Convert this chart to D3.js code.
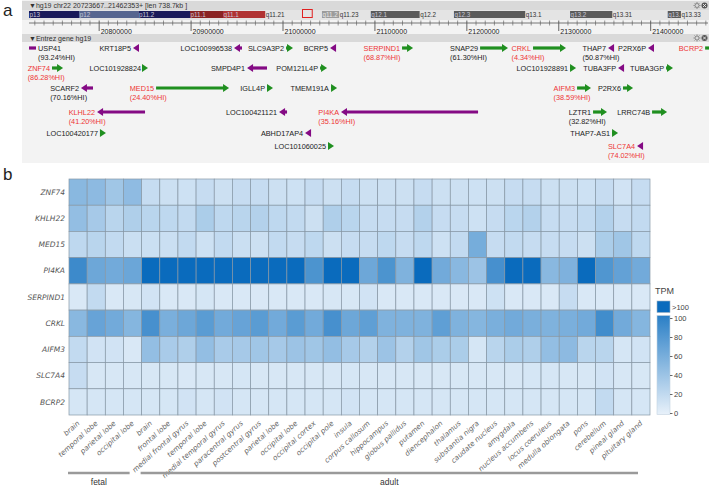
<!DOCTYPE html>
<html><head><meta charset="utf-8">
<script src="https://cdn.jsdelivr.net/npm/d3@7"></script>
<style>
body{margin:0;background:#fff;}
svg{display:block;font-family:"Liberation Sans",Arial,sans-serif;}
</style>
</head><body>
<svg id="c" width="709" height="486"></svg>
<script>
// ---------------- DATA ----------------
const regionChrom = "chr22";
const regionStart = 20723667;
const regionEnd = 21462353;
const chromLengthMb = 51.3;

const bandNames  = ["p13","p12","p11.2","p11.1","q11.1","q11.21","q11.22","q11.23","q12.1","q12.2","q12.3","q13.1","q13.2","q13.31","q13.32","q13.33"];
const bandStartMb= [0,3.8,8.3,12.2,14.7,17.9,22.2,23.5,25.9,29.6,32.2,37.6,41.0,44.2,48.4,49.4];
const bandEndMb  = [3.8,8.3,12.2,14.7,17.9,22.2,23.5,25.9,29.6,32.2,37.6,41.0,44.2,48.4,49.4,51.3];
const bandStain  = ["gvar","stalk","gvar","acenp","acenq","gneg","gpos25","gneg","gpos50","gneg","gpos50","gneg","gpos50","gneg","gpos50","gneg"];

const geneNames  = ["USP41","KRT18P5","LOC100996538","SLC9A3P2","BCRP5","SERPIND1","SNAP29","CRKL","THAP7","P2RX6P","BCRP2",
                    "ZNF74","LOC101928824","SMPD4P1","POM121L4P","LOC101928891","TUBA3FP","TUBA3GP",
                    "SCARF2","MED15","IGLL4P","TMEM191A","AIFM3","P2RX6",
                    "KLHL22","LOC100421121","PI4KA","LZTR1","LRRC74B",
                    "LOC100420177","ABHD17AP4","THAP7-AS1",
                    "LOC101060025","SLC7A4"];
const geneStart  = [20700000,20836800,20946700,21003300,21051200,21129500,21214400,21272000,21353600,21397100,21459200,
                    20748700,20847700,20960900,21040300,21312300,21364500,21416700,
                    20780200,20861900,20982600,21052200,21319900,21369900,
                    20797700,20995700,21063100,21337300,21401500,
                    20800900,21024000,21358000,
                    21049000,21385200];
const geneEnd    = [20731300,20842300,20955400,21010900,21056600,21141500,21244800,21307900,21360100,21402600,21470000,
                    20760700,20853100,20982600,21047900,21318800,21369900,21424300,
                    20793300,20941300,20989100,21058800,21335100,21380800,
                    20849900,21004400,21212200,21352500,21417800,
                    20807400,21029400,21364500,
                    21055500,21390600];
const geneStrand = [-1,-1,-1,1,-1,1,1,1,-1,-1,1,
                    1,1,-1,1,1,-1,1,
                    -1,1,1,1,1,1,
                    -1,-1,-1,1,1,
                    1,-1,1,
                    1,-1];
const geneRow    = [0,0,0,0,0,0,0,0,0,0,0,
                    1,1,1,1,1,1,1,
                    2,2,2,2,2,2,
                    3,3,3,3,3,
                    4,4,4,
                    5,5];
const geneHI     = {"USP41":"93.24","SERPIND1":"68.87","SNAP29":"61.30","CRKL":"4.34","THAP7":"50.87",
                    "ZNF74":"86.28","SCARF2":"70.16","MED15":"24.40","AIFM3":"38.59",
                    "KLHL22":"41.20","PI4KA":"35.16","LZTR1":"32.82","SLC7A4":"74.02"};
const highlightGenes = ["SERPIND1","CRKL","BCRP2","ZNF74","MED15","AIFM3","KLHL22","PI4KA","SLC7A4"];

const tissues = ["brain","temporal lobe","parietal lobe","occipital lobe",
  "brain","frontal lobe","medial frontal gyrus","temporal lobe","medial temporal gyrus","paracentral gyrus",
  "postcentral gyrus","parietal lobe","occipital lobe","occipital cortex","occipital pole","insula",
  "corpus callosum","hippocampus","globus pallidus","putamen","diencephalon","thalamus","substantia nigra",
  "caudate nucleus","amygdala","nucleus accumbens","locus coeruleus","medulla oblongata","pons","cerebellum",
  "pineal gland","pituitary gland"];
const groupNames = ["fetal","adult"];
const groupSizes = [4,28];
const heatGenes = ["ZNF74","KHLH22","MED15","PI4KA","SERPIND1","CRKL","AIFM3","SLC7A4","BCRP2"];

const ZNF74    = [50,48,38,47, 18,15,14,18,15,18,18,15,14,18,15,18, 15,15,15,18,15,15,14,15,18,18,15,15,14,18,12,18];
const KHLH22   = [45,35,25,30, 25,22,20,32,22,25,28,22,20,15,30,25, 18,18,18,28,18,18,14,18,24,28,18,18,20,28,18,20];
const MED15    = [22,25,20,16, 16,16,20,14,20,16,15,20,18,22,15,18, 18,22,18,22,14,20,60,18,20,18,18,18,15,32,38,22];
const PI4KA    = [90,65,62,66, 130,130,130,130,130,130,130,130,130,82,130,130, 65,82,55,130,62,50,40,85,130,130,50,56,130,80,70,62];
const SERPIND1 = [8,20,8,9, 12,8,8,10,8,8,8,8,8,8,9,9, 12,8,8,8,8,8,8,14,8,8,8,18,8,8,8,8];
const CRKL     = [50,68,62,52, 85,58,65,75,62,68,75,62,75,62,85,65, 72,55,55,55,72,55,52,58,62,58,55,58,62,88,62,52];
const AIFM3    = [20,12,12,8, 45,33,30,45,33,35,38,35,40,38,45,35, 28,40,28,38,32,32,10,25,32,30,45,48,25,25,10,12];
const SLC7A4   = [18,9,9,9, 9,9,8,9,9,10,9,9,9,9,9,10, 9,9,9,9,9,9,9,9,9,10,10,9,9,12,9,9];
const BCRP2    = [10,10,10,10, 10,10,12,10,12,10,10,10,10,10,10,12, 10,10,10,10,10,10,10,10,10,10,10,10,10,20,10,10];
const heatValues = [ZNF74,KHLH22,MED15,PI4KA,SERPIND1,CRKL,AIFM3,SLC7A4,BCRP2];
const legendTicks = [0,20,40,60,80,100];

// ---------------- DRAW ----------------
const svg = d3.select("#c");

// panel letters
svg.append("text").attr("x",3).attr("y",16).attr("font-size",17).attr("fill","#222").text("a");
svg.append("text").attr("x",3).attr("y",180).attr("font-size",17).attr("fill","#222").text("b");

// ---- panel a background ----
const A_L = 22, A_R = 709;
svg.append("rect").attr("x",A_L).attr("y",0).attr("width",A_R-A_L).attr("height",163).attr("fill","#f3f3f3");
svg.append("rect").attr("x",A_L).attr("y",1).attr("width",A_R-A_L).attr("height",9).attr("fill","#d9d9d9");
svg.append("rect").attr("x",A_L).attr("y",10).attr("width",A_R-A_L).attr("height",10).attr("fill","#e4e4e4");
svg.append("rect").attr("x",A_L).attr("y",34).attr("width",A_R-A_L).attr("height",8).attr("fill","#d9d9d9");

svg.append("text").attr("x",29).attr("y",8).attr("font-size",7).attr("fill","#333")
  .text("\u25BChg19 " + regionChrom + " " + regionStart + ".." + regionEnd + "+ [len " + ((regionEnd-regionStart)/1000).toFixed(1) + "kb ]");
svg.append("text").attr("x",29).attr("y",40.5).attr("font-size",7).attr("fill","#333")
  .text("\u25BCEntrez gene hg19");

function icons(y){
  const g = svg.append("g");
  g.append("circle").attr("cx",697).attr("cy",y).attr("r",2).attr("fill","none").attr("stroke","#777").attr("stroke-width",0.8);
  for(let k=0;k<8;k++){
    const a = k*Math.PI/4;
    g.append("line").attr("x1",697+2.3*Math.cos(a)).attr("y1",y+2.3*Math.sin(a))
      .attr("x2",697+3.5*Math.cos(a)).attr("y2",y+3.5*Math.sin(a)).attr("stroke","#777").attr("stroke-width",0.8);
  }
  g.append("circle").attr("cx",704.5).attr("cy",y).attr("r",3).attr("fill","#555");
  g.append("path").attr("d",`M${703},${y-1.5}L${706},${y+1.5}M${706},${y-1.5}L${703},${y+1.5}`).attr("stroke","#eee").attr("stroke-width",0.9);
}
icons(5.5); icons(38);

// ---- ideogram ----
const ix = d3.scaleLinear().domain([0,chromLengthMb]).range([29,706]);
const stainFill = {gvar:"#1b1b5a",stalk:"#56658f",acenp:"#8a2424",acenq:"#b03232",gneg:null,gpos25:"#9c9c9c",gpos50:"#5a5a5a"};
bandNames.forEach((b,i)=>{
  const f = stainFill[bandStain[i]];
  const x0 = ix(bandStartMb[i]), x1 = ix(bandEndMb[i]);
  if(f) svg.append("rect").attr("x",x0).attr("y",11).attr("width",x1-x0).attr("height",7).attr("fill",f);
  const t = svg.append("text").attr("x",x0+0.5).attr("y",17).attr("font-size",6.3)
    .attr("fill", f ? (bandStain[i]==="gpos25" ? "#e8e8e8" : "#c8c8d8") : "#333").text(b);
  // truncate label so it stays inside its band
  let s = b;
  while(s.length>1 && t.node().getComputedTextLength() > (x1-x0)-0.5){ s = s.slice(0,-1); t.text(s); }
});
svg.append("rect").attr("x",ix(regionStart/1e6)).attr("y",9.5).attr("width",ix(regionEnd/1e6)-ix(regionStart/1e6)).attr("height",8)
  .attr("fill","none").attr("stroke","#e02020").attr("stroke-width",1);

// ---- ruler ----
const gx = d3.scaleLinear().domain([regionStart,regionEnd]).range([29,708]);
svg.append("line").attr("x1",29).attr("x2",708).attr("y1",23).attr("y2",23).attr("stroke","#555").attr("stroke-width",0.8);
for(let p=Math.ceil(regionStart/10000)*10000; p<=regionEnd; p+=10000){
  const major = p % 100000 === 0;
  svg.append("line").attr("x1",gx(p)).attr("x2",gx(p)).attr("y1",20.5).attr("y2",major?31:25.5)
    .attr("stroke","#555").attr("stroke-width",major?0.9:0.6);
  if(major) svg.append("text").attr("x",gx(p)+1.5).attr("y",33.5).attr("font-size",7).attr("fill","#222").text(p);
}

// ---- genes ----
const rowY = [48,68,88,112,133,146];
const gGenes = svg.append("g");
geneNames.forEach((name,i)=>{
  const y = rowY[geneRow[i]];
  const s = geneStrand[i];
  const col = s>0 ? "#1f8f1f" : "#840a84";
  const x0r = gx(geneStart[i]), x1r = gx(geneEnd[i]);
  const clipL = x0r < 29, clipR = x1r > 708;
  const x0 = Math.max(29,x0r), x1 = Math.min(709,x1r);
  const head = 6;
  const showHead = s>0 ? !clipR : !clipL;
  let lx0 = x0, lx1 = x1;
  if(showHead){ if(s>0) lx1 = x1-head+1; else lx0 = x0+head-1; }
  if(lx1>lx0) gGenes.append("line").attr("x1",lx0).attr("x2",lx1).attr("y1",y).attr("y2",y).attr("stroke",col).attr("stroke-width",3.2);
  if(showHead){
    const tip = s>0 ? x1 : x0, base = s>0 ? x1-head : x0+head;
    gGenes.append("path").attr("d",`M${tip},${y}L${base},${y-4}L${base},${y+4}Z`).attr("fill",col);
  }
  const hl = highlightGenes.includes(name);
  const tcol = hl ? "#ee3535" : "#222";
  const t = gGenes.append("text").attr("y",y+2.6).attr("font-size",7.3).attr("fill",tcol).text(name);
  const w = t.node().getComputedTextLength();
  let tx = x0 - 2 - w;
  if(clipL) tx = x1 + 2;
  t.attr("x",tx);
  if(geneHI[name]) gGenes.append("text").attr("x",tx).attr("y",y+11.5).attr("font-size",7.3).attr("fill",tcol)
      .text("(" + geneHI[name] + "%HI)");
});

// ---- panel b heatmap ----
const x = d3.scaleBand().domain(d3.range(tissues.length)).range([69,650]);
const y = d3.scaleBand().domain(heatGenes).range([179,415]);
const color = d3.scaleLinear().domain([0,100]).range(["#e8f1fa","#2a7fc6"]).clamp(true);
const overColor = "#0a6bbd";
const fillFor = v => v>100 ? overColor : color(v);

const hm = svg.append("g");
heatGenes.forEach((gname,r)=>{
  hm.selectAll(null).data(heatValues[r]).enter().append("rect")
    .attr("x",(d,i)=>x(i)).attr("y",y(gname)).attr("width",x.bandwidth()).attr("height",y.bandwidth())
    .attr("fill",d=>fillFor(d)).attr("stroke","#8797a5").attr("stroke-width",0.7);
});

// row labels
svg.append("g").selectAll("text").data(heatGenes).enter().append("text")
  .attr("x",65).attr("y",d=>y(d)+y.bandwidth()/2+2.7).attr("text-anchor","end")
  .attr("font-family","DejaVu Sans").attr("font-style","italic").attr("font-size",7.5).attr("fill","#555").text(d=>d);

// column labels
svg.append("g").selectAll("text").data(tissues).enter().append("text")
  .attr("transform",(d,i)=>`translate(${x(i)+x.bandwidth()/2+2},${424}) rotate(-42)`)
  .attr("text-anchor","end").attr("font-family","DejaVu Sans").attr("font-style","italic")
  .attr("font-size",7.2).attr("fill","#666").text(d=>d);

// group bars
let off = 0;
groupNames.forEach((gname,k)=>{
  const a = x(off), b = x(off+groupSizes[k]-1)+x.bandwidth();
  const x0 = a-1, x1 = b-12;
  svg.append("line").attr("x1",x0).attr("x2",x1).attr("y1",473).attr("y2",473).attr("stroke","#9a9a9a").attr("stroke-width",2.4);
  svg.append("text").attr("x",(x0+x1)/2).attr("y",484.5).attr("text-anchor","middle").attr("font-size",8.5).attr("fill","#333").text(gname);
  off += groupSizes[k];
});

// legend
const lg = svg.append("g");
lg.append("text").attr("x",655).attr("y",294).attr("font-size",9).attr("fill","#444").text("TPM");
lg.append("rect").attr("x",657).attr("y",301).attr("width",13).attr("height",11.5).attr("fill",overColor).attr("stroke","#9fb3c4").attr("stroke-width",0.6);
lg.append("text").attr("x",672).attr("y",309.5).attr("font-size",7.5).attr("fill","#444").text(">100");
const defs = svg.append("defs");
const grad = defs.append("linearGradient").attr("id","lgd").attr("x1",0).attr("y1",1).attr("x2",0).attr("y2",0);
grad.append("stop").attr("offset","0%").attr("stop-color",color(0));
grad.append("stop").attr("offset","100%").attr("stop-color",color(100));
const ly = d3.scaleLinear().domain([0,100]).range([413,318]);
lg.append("rect").attr("x",657).attr("y",315.5).attr("width",13).attr("height",99).attr("fill","url(#lgd)")
  .attr("stroke","#c3d3e0").attr("stroke-width",0.6);
const ax = lg.append("g").attr("transform","translate(670,0)")
  .call(d3.axisRight(ly).tickValues(legendTicks).tickSize(2.5).tickPadding(1.5));
ax.select(".domain").remove();
ax.selectAll("line").attr("stroke","#666");
ax.selectAll("text").attr("font-size",7.5).attr("fill","#444").attr("font-family","Liberation Sans");
</script>
</body></html>
